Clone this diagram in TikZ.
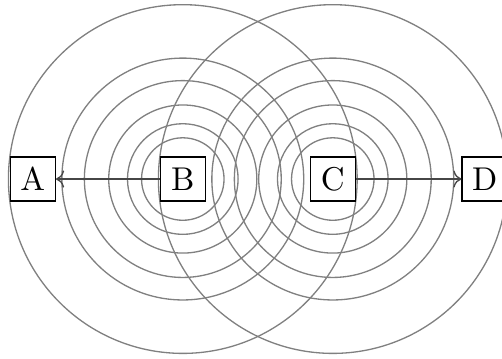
\documentclass[tikz,border=0pt]{standalone}
\usepackage{tikz}
\usetikzlibrary{arrows.meta,positioning}
\definecolor{ringgrey}{RGB}{128,128,128}
\definecolor{linkgrey}{RGB}{70,70,70}
\tikzset{
  ring/.style={draw=ringgrey,line width=0.4pt},
  station/.style={draw=black,fill=white,minimum width=0.48cm,
    minimum height=0.47cm,inner sep=2pt},
  link/.style={->,draw=linkgrey}
}

\begin{document}
\begin{tikzpicture}
  \useasboundingbox (-1.95,-1.91) rectangle (3.405,1.91);
  \coordinate (bc) at (0,0);
  \coordinate (cc) at (1.6,0);
  % rings round the two inner stations
  \foreach \r in {0.44,0.59,0.79,1.05,1.29,1.86} {
    \draw[ring] (bc) circle (\r);
    \draw[ring] (cc) circle (\r);
  }
  \node[station] (B) at (bc) {B};
  \node[station] (C) at (cc) {C};
  \node[station] (A) at (-1.6,0) {A};
  \node[station] (D) at (3.22,0) {D};
  \draw[link] (B) -- (A);
  \draw[link] (C) -- (D);
\end{tikzpicture}
\end{document}
